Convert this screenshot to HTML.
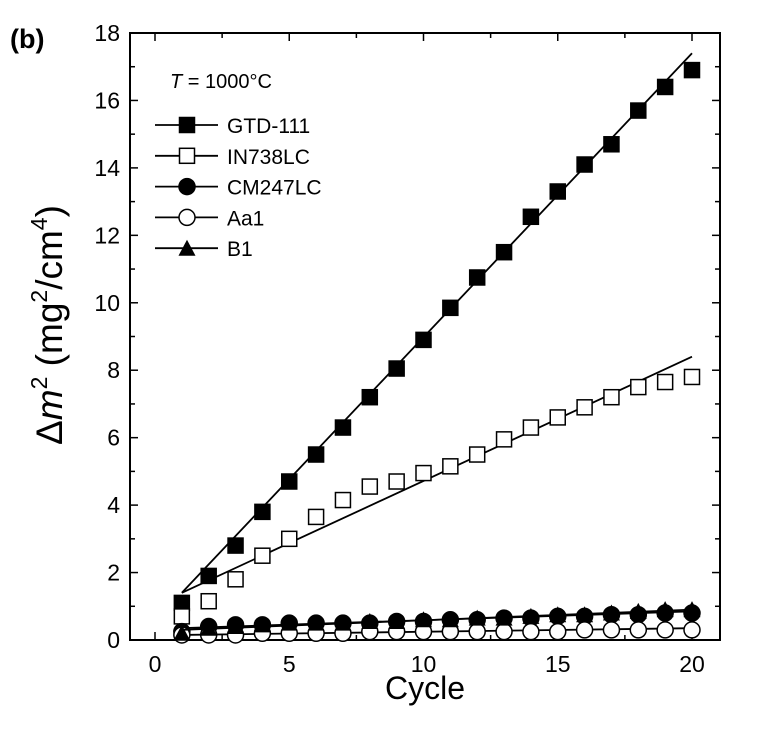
<!DOCTYPE html>
<html><head><meta charset="utf-8"><style>body{margin:0;background:#fff}svg{font-family:"Liberation Sans",sans-serif}</style></head>
<body>
<svg width="760" height="735" id="c"></svg>
<script>
const cycles=[1,2,3,4,5,6,7,8,9,10,11,12,13,14,15,16,17,18,19,20];
const gtd=[1.1,1.9,2.8,3.8,4.7,5.5,6.3,7.2,8.05,8.9,9.85,10.75,11.5,12.55,13.3,14.1,14.7,15.7,16.4,16.9];
const inlc=[0.7,1.15,1.8,2.5,3.0,3.65,4.15,4.55,4.7,4.95,5.15,5.5,5.95,6.3,6.6,6.9,7.2,7.5,7.65,7.8];
const cm=[0.25,0.4,0.45,0.45,0.5,0.5,0.5,0.5,0.55,0.55,0.6,0.6,0.65,0.65,0.7,0.7,0.75,0.75,0.8,0.8];
const aa=[0.15,0.15,0.15,0.2,0.2,0.2,0.2,0.25,0.25,0.25,0.25,0.25,0.25,0.25,0.25,0.3,0.3,0.3,0.3,0.3];
const b1=[0.2,0.35,0.4,0.45,0.5,0.5,0.5,0.55,0.55,0.6,0.6,0.65,0.65,0.7,0.75,0.75,0.8,0.85,0.9,0.9];
const fits={gtd:[1.4,17.4],inlc:[1.4,8.4],cm:[0.35,0.85],aa:[0.15,0.35],b1:[0.3,0.9]};
const xTicks=[0,5,10,15,20], yTicks=[0,2,4,6,8,10,12,14,16,18];
const L=130,R=720,T=33,B=640;
const X=v=>155+v*(692-155)/20, Y=v=>B-v*(B-T)/18;
const s=document.getElementById('c');const NS='http://www.w3.org/2000/svg';
function el(t,a,p){const e=document.createElementNS(NS,t);for(const k in a)e.setAttribute(k,a[k]);(p||s).appendChild(e);return e;}
const frame=el('rect',{x:L,y:T,width:R-L,height:B-T,fill:'none',stroke:'#000','stroke-width':2});

for(let v=0;v<=20;v+=2.5){const maj=v%5==0,len=maj?8:5;
el('line',{x1:X(v),x2:X(v),y1:B,y2:B-len,stroke:'#000','stroke-width':1.5});
el('line',{x1:X(v),x2:X(v),y1:T,y2:T+len,stroke:'#000','stroke-width':1.5});}
for(let v=0;v<=18;v++){const len=v%2==0?8:5;
el('line',{x1:L,x2:L+len,y1:Y(v),y2:Y(v),stroke:'#000','stroke-width':1.5});
el('line',{x1:R,x2:R-len,y1:Y(v),y2:Y(v),stroke:'#000','stroke-width':1.5});}
xTicks.forEach(v=>{const t=el('text',{x:X(v),y:B+32,'font-size':23,'text-anchor':'middle'});t.textContent=v;
});
yTicks.forEach(v=>{const t=el('text',{x:L-10,y:Y(v)+8,'font-size':23,'text-anchor':'end'});t.textContent=v;
});
function marker(type,x,y,g){const r=7.5;
if(type=='sf'||type=='so')el('rect',{x:x-r,y:y-r,width:2*r,height:2*r,fill:type=='sf'?'#000':'#fff',stroke:'#000','stroke-width':1.5},g);
else if(type=='cf'||type=='co')el('circle',{cx:x,cy:y,r:r+0.5,fill:type=='cf'?'#000':'#fff',stroke:'#000','stroke-width':1.5},g);
else el('polygon',{points:`${x},${y-r-1} ${x+r+1},${y+r} ${x-r-1},${y+r}`,fill:'#000'},g);}
const series=[['gtd',gtd,'sf','GTD-111'],['inlc',inlc,'so','IN738LC'],['cm',cm,'cf','CM247LC'],['aa',aa,'co','Aa1'],['b1',b1,'t','B1']];
series.forEach(([k,d,m,n])=>{const g=el('g',{});
el('line',{x1:X(1),y1:Y(fits[k][0]),x2:X(20),y2:Y(fits[k][1]),stroke:'#000','stroke-width':1.8},g);
d.forEach((v,i)=>marker(m,X(cycles[i]),Y(v),g));});
const lg=el('g',{});
const tt=el('text',{x:170,y:88,'font-size':20},lg);tt.innerHTML='<tspan font-style="italic">T</tspan> = 1000°C';
series.forEach(([k,d,m,n],i)=>{const y=125+i*30.8;el('line',{x1:155,x2:218,y1:y,y2:y,stroke:'#000','stroke-width':1.8},lg);
marker(m,187,y,lg);const t=el('text',{x:227,y:y+8,'font-size':21},lg);t.textContent=n;});
const xl=el('text',{x:425,y:699,'font-size':32,'text-anchor':'middle'});xl.textContent='Cycle';

const yl=el('text',{x:0,y:0,'font-size':37,'text-anchor':'middle',transform:'translate(62,325) rotate(-90)'});
yl.innerHTML='Δ<tspan font-style="italic">m</tspan><tspan font-size="23" dy="-15">2</tspan><tspan dy="15"> (mg</tspan><tspan font-size="23" dy="-15">2</tspan><tspan dy="15">/cm</tspan><tspan font-size="23" dy="-15">4</tspan><tspan dy="15">)</tspan>';

const pl=el('text',{x:10,y:48,'font-size':27,'font-weight':'bold'});pl.textContent='(b)';

</script>
</body></html>
